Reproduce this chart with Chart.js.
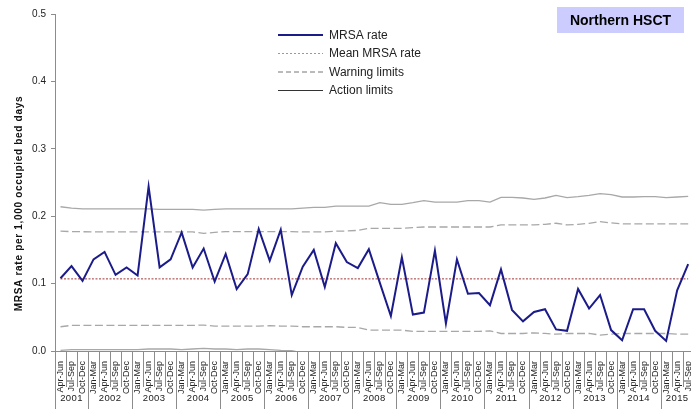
<!DOCTYPE html>
<html>
<head>
<meta charset="utf-8">
<script src="https://cdn.jsdelivr.net/npm/chart.js@4.4.1/dist/chart.umd.min.js"></script>
<style>
html,body{margin:0;padding:0;width:691px;height:409px;overflow:hidden;background:#fff;}
#wrap{width:691px;height:409px;overflow:hidden;position:relative;}
canvas{display:block;}
</style>
</head>
<body>
<div id="wrap"><canvas id="c" width="701" height="409" style="width:701px;height:409px"></canvas></div>
<script>
// ---------- data ----------
const quarterNames = ['Jan-Mar','Apr-Jun','Jul-Sep','Oct-Dec'];
const years = [2001,2002,2003,2004,2005,2006,2007,2008,2009,2010,2011,2012,2013,2014,2015];
const firstQuarterIndex = 1;   // series starts Apr-Jun 2001
const lastQuarterIndex = 2;    // series ends Jul-Sep 2015
const yTicks = [0, 0.1, 0.2, 0.3, 0.4, 0.5];

const mrsaRate = [0.108,0.126,0.104,0.136,0.147,0.113,0.124,0.112,0.244,0.124,
                  0.136,0.176,0.124,0.152,0.103,0.144,0.092,0.114,0.181,0.134,
                  0.180,0.083,0.125,0.150,0.095,0.160,0.132,0.123,0.151,0.101,
                  0.052,0.139,0.054,0.057,0.149,0.041,0.136,0.085,0.086,0.068,
                  0.121,0.061,0.044,0.058,0.062,0.032,0.030,0.092,0.063,0.083,
                  0.031,0.016,0.062,0.062,0.030,0.015,0.090,0.129];
const meanMrsaRate = 0.107;
const upperAction = [0.214,0.212,0.211,0.211,0.211,0.211,0.211,0.211,0.211,0.210,
                     0.210,0.210,0.210,0.209,0.210,0.211,0.211,0.211,0.211,0.211,
                     0.211,0.211,0.212,0.213,0.213,0.215,0.215,0.215,0.215,0.220,
                     0.2176,0.2176,0.220,0.223,0.221,0.221,0.221,0.223,0.223,0.221,
                     0.228,0.228,0.227,0.225,0.227,0.231,0.2275,0.229,0.231,0.2335,
                     0.232,0.2285,0.2285,0.229,0.229,0.2275,0.2285,0.2295];
const upperWarning = [0.178,0.177,0.177,0.1766,0.1766,0.1766,0.1766,0.1766,0.1766,0.1766,
                      0.1766,0.1766,0.1766,0.1746,0.176,0.177,0.177,0.177,0.177,0.177,
                      0.177,0.177,0.1766,0.1766,0.1766,0.178,0.178,0.179,0.182,0.182,
                      0.182,0.182,0.183,0.184,0.184,0.184,0.184,0.184,0.184,0.184,
                      0.187,0.187,0.187,0.187,0.188,0.1895,0.187,0.188,0.1895,0.192,
                      0.190,0.1885,0.1885,0.1885,0.1885,0.1885,0.1885,0.1885];
const lowerWarning = [0.036,0.038,0.038,0.038,0.038,0.038,0.038,0.038,0.038,0.038,
                      0.038,0.038,0.038,0.0385,0.037,0.037,0.037,0.037,0.037,0.0375,
                      0.037,0.037,0.036,0.036,0.036,0.036,0.035,0.035,0.031,0.031,
                      0.031,0.031,0.029,0.029,0.029,0.029,0.029,0.029,0.029,0.030,
                      0.026,0.026,0.026,0.027,0.026,0.025,0.026,0.026,0.026,0.0237,
                      0.025,0.026,0.026,0.026,0.026,0.026,0.025,0.025];
const lowerAction = [0.001,0.002,0.002,0.002,0.002,0.002,0.002,0.002,0.003,0.003,
                     0.003,0.002,0.003,0.004,0.003,0.003,0.002,0.003,0.003,0.002,
                     0.001,0.0005,-0.003,-0.004,-0.005,-0.006,-0.006,-0.007,-0.010,-0.010,
                     -0.010,-0.010,-0.012,-0.013,-0.013,-0.013,-0.013,-0.013,-0.013,-0.012,
                     -0.016,-0.016,-0.016,-0.015,-0.016,-0.017,-0.016,-0.016,-0.017,-0.019,
                     -0.018,-0.017,-0.017,-0.017,-0.017,-0.017,-0.018,-0.018];

// ---------- build categories ----------
const categories = [];
const categoryYear = [];
years.forEach((y, yi) => {
  const qs = yi === 0 ? firstQuarterIndex : 0;
  const qe = yi === years.length - 1 ? lastQuarterIndex : 3;
  for (let q = qs; q <= qe; q++) { categories.push(quarterNames[q]); categoryYear.push(y); }
});
const meanLine = categories.map(() => meanMrsaRate);

const FONT = "'Liberation Sans', Arial, sans-serif";
Chart.defaults.font.family = FONT;

const decor = {
  id: 'decor',
  afterDraw(chart) {
    const ctx = chart.ctx, xs = chart.scales.x, a = chart.chartArea;
    const n = categories.length;
    ctx.save();
    // separators between quarters / years
    ctx.strokeStyle = '#8c8c8c';
    ctx.lineWidth = 1;
    for (let i = 0; i <= n; i++) {
      let px;
      if (i === 0) px = a.left;
      else if (i === n) px = a.right;
      else px = (xs.getPixelForValue(i - 1) + xs.getPixelForValue(i)) / 2;
      const isYear = i === 0 || i === n || categoryYear[i] !== categoryYear[i - 1];
      const bottom = isYear ? 409 : 387;
      px = Math.round(px) + 0.5;
      ctx.beginPath(); ctx.moveTo(px, a.bottom); ctx.lineTo(px, bottom); ctx.stroke();
    }
    // year labels
    ctx.fillStyle = '#222';
    ctx.font = '9.5px ' + FONT;
    try { ctx.letterSpacing = '0.4px'; } catch (e) {}
    ctx.textAlign = 'center'; ctx.textBaseline = 'middle';
    years.forEach(y => {
      const first = categoryYear.indexOf(y), last = categoryYear.lastIndexOf(y);
      const cx = (xs.getPixelForValue(first) + xs.getPixelForValue(last)) / 2;
      ctx.fillText(String(y), cx, 398.5);
    });
    // y axis title
    ctx.save();
    ctx.translate(19, 203.5);
    ctx.rotate(-Math.PI / 2);
    ctx.font = 'bold 10px ' + FONT;
    try { ctx.letterSpacing = '0.7px'; } catch (e) {}
    ctx.fillStyle = '#111';
    ctx.fillText('MRSA rate per 1,000 occupied bed days', 0, 0);
    ctx.restore();
    try { ctx.letterSpacing = '0px'; } catch (e) {}
    // title box
    ctx.fillStyle = '#ccccff';
    ctx.fillRect(557, 7, 127, 26);
    ctx.fillStyle = '#000';
    ctx.font = 'bold 14px ' + FONT;
    ctx.textAlign = 'center'; ctx.textBaseline = 'middle';
    ctx.fillText('Northern HSCT', 620.5, 21);
    // legend
    const items = [
      {t: 'MRSA rate', c: '#1b1b8a', w: 2, d: []},
      {t: 'Mean MRSA rate', c: '#c98484', w: 1, d: [2, 2]},
      {t: 'Warning limits', c: '#777', w: 1, d: [5, 3]},
      {t: 'Action limits', c: '#333', w: 1, d: []}
    ];
    const rows = [35, 53.5, 72, 90.5];
    ctx.font = '12px ' + FONT;
    ctx.textAlign = 'left';
    items.forEach((it, k) => {
      ctx.strokeStyle = it.c; ctx.lineWidth = it.w; ctx.setLineDash(it.d);
      ctx.beginPath(); ctx.moveTo(278, rows[k]); ctx.lineTo(323, rows[k]); ctx.stroke();
      ctx.setLineDash([]);
      ctx.fillStyle = '#222';
      ctx.fillText(it.t, 329, rows[k] + 0.5);
    });
    ctx.restore();
  }
};

new Chart(document.getElementById('c'), {
  type: 'line',
  data: {
    labels: categories,
    datasets: [
      {label: 'MRSA rate', data: mrsaRate, borderColor: '#1b1b8a', borderWidth: 2, pointRadius: 0, tension: 0, fill: false},
      {label: 'Mean MRSA rate', data: meanLine, borderColor: '#a33434', borderWidth: 1, borderDash: [2, 1.5], pointRadius: 0, fill: false},
      {label: 'Upper warning', data: upperWarning, borderColor: '#a8a8a8', borderWidth: 1.3, borderDash: [8, 3.5], pointRadius: 0, fill: false},
      {label: 'Lower warning', data: lowerWarning, borderColor: '#a8a8a8', borderWidth: 1.3, borderDash: [8, 3.5], pointRadius: 0, fill: false},
      {label: 'Upper action', data: upperAction, borderColor: '#a8a8a8', borderWidth: 1.3, pointRadius: 0, fill: false},
      {label: 'Lower action', data: lowerAction, borderColor: '#a8a8a8', borderWidth: 1.3, pointRadius: 0, fill: false}
    ]
  },
  options: {
    responsive: false,
    animation: false,
    devicePixelRatio: 1,
    layout: {padding: {left: 0, right: 2, top: 14, bottom: 0}},
    plugins: {legend: {display: false}, title: {display: false}, tooltip: {enabled: false}},
    scales: {
      x: {
        type: 'category',
        offset: true,
        grid: {display: false},
        border: {display: true, color: '#8c8c8c', width: 1},
        ticks: {autoSkip: false, maxRotation: 90, minRotation: 90, padding: 2,
                font: {size: 9, family: FONT}, color: '#222'},
        afterFit(s) { s.height = 58; }
      },
      y: {
        min: 0, max: 0.5,
        afterBuildTicks(s) { s.ticks = yTicks.map(v => ({value: v})); },
        grid: {display: true, drawOnChartArea: false, drawTicks: true, tickLength: 4, color: '#8c8c8c'},
        border: {display: true, color: '#8c8c8c', width: 1},
        ticks: {padding: 5, font: {size: 10, family: FONT}, color: '#222',
                callback: v => Number(v).toFixed(1)},
        afterFit(s) { s.width = 55; }
      }
    }
  },
  plugins: [decor]
});
</script>
</body>
</html>
